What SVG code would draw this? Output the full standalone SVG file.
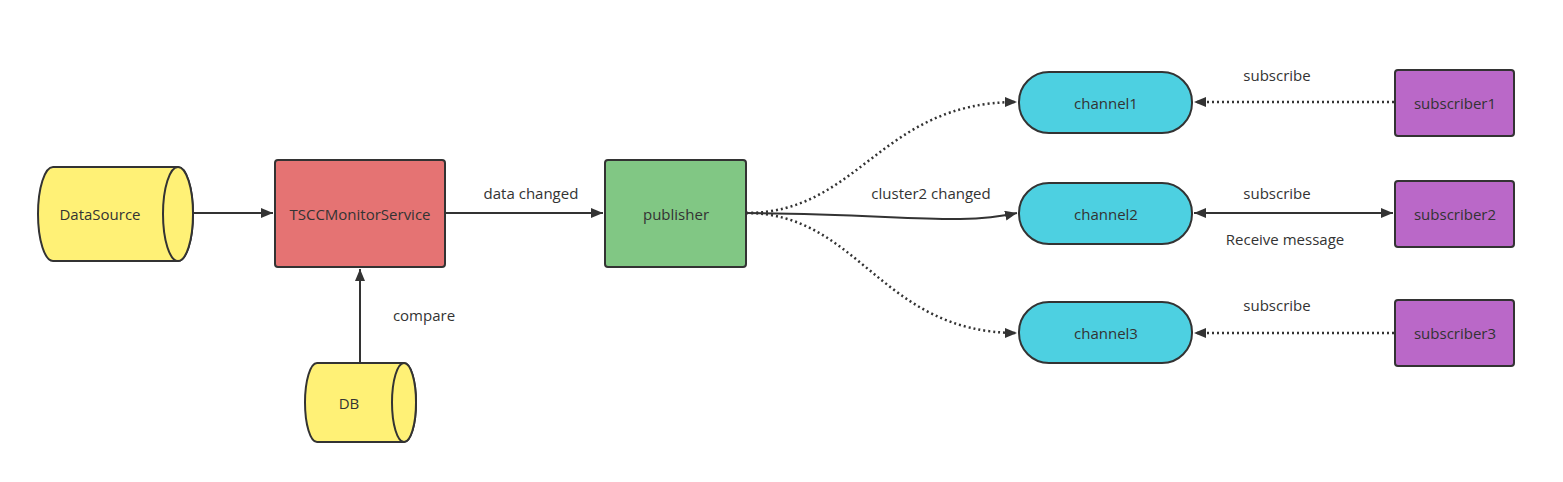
<svg xmlns="http://www.w3.org/2000/svg" width="1563" height="482" viewBox="0 0 1563 482">
<style>
.n{stroke:#333;stroke-width:2}
.t{font-family:"Open Sans","Noto Sans","Liberation Sans",sans-serif;font-size:15px;fill:#333;text-anchor:middle;dominant-baseline:central}
.c{fill:none;stroke:#333;stroke-width:2}
.d{fill:none;stroke:#333;stroke-width:2.5;stroke-dasharray:2 3}
</style>
<defs>
<marker id="a" viewBox="0 0 12 10" refX="12" refY="5" markerWidth="12" markerHeight="10" markerUnits="userSpaceOnUse" orient="auto-start-reverse">
<path d="M0,0 L12,5 L0,10 Z" fill="#333"/>
</marker>
</defs>
<rect width="1563" height="482" fill="#fff"/>
<g id="connectors">
<path class="c" d="M193,213 L273,213" marker-end="url(#a)"/>
<path class="c" d="M360,363 L360,269" marker-end="url(#a)"/>
<path class="c" d="M445,213 L603,213" marker-end="url(#a)"/>
<path class="d" d="M746,213 C860,213 880,102 1017,102" marker-end="url(#a)"/>
<path class="c" d="M746,213 C900,214 960,226 1017,213" marker-end="url(#a)"/>
<path class="d" d="M746,213 C860,213 880,333 1017,333" marker-end="url(#a)"/>
<path class="d" d="M1394,102 L1194,102" marker-end="url(#a)"/>
<path class="c" d="M1194,213 L1393,213" marker-start="url(#a)" marker-end="url(#a)"/>
<path class="d" d="M1394,333 L1194,333" marker-end="url(#a)"/>
<text class="t" x="531" y="193">data changed</text>
<text class="t" x="424" y="315">compare</text>
<text class="t" x="931" y="193">cluster2 changed</text>
<text class="t" x="1277" y="75">subscribe</text>
<text class="t" x="1277" y="193">subscribe</text>
<text class="t" x="1285" y="239">Receive message</text>
<text class="t" x="1277" y="305">subscribe</text>
</g>
<g id="DataSource">
<path class="n" fill="#FFF176" d="M53,167 L178,167 A15,47 0 0 1 178,261 L53,261 A15,47 0 0 1 53,167 Z"/>
<ellipse class="n" fill="#FFF176" cx="178" cy="214" rx="15" ry="47"/>
<text class="t" x="100" y="214">DataSource</text>
</g>
<g id="TSCCMonitorService">
<rect class="n" fill="#E57373" x="275" y="160" width="170" height="107" rx="3"/>
<text class="t" x="360" y="214">TSCCMonitorService</text>
</g>
<g id="DB">
<path class="n" fill="#FFF176" d="M317,363 L404,363 A12,39.5 0 0 1 404,442 L317,442 A12,39.5 0 0 1 317,363 Z"/>
<ellipse class="n" fill="#FFF176" cx="404" cy="402.5" rx="12" ry="39.5"/>
<text class="t" x="349" y="403">DB</text>
</g>
<g id="publisher">
<rect class="n" fill="#81C784" x="605" y="160" width="141" height="107" rx="3"/>
<text class="t" x="676" y="214">publisher</text>
</g>
<g id="channel1">
<rect class="n" fill="#4DD0E1" x="1019" y="72" width="173" height="61" rx="30"/>
<text class="t" x="1106" y="103">channel1</text>
</g>
<g id="channel2">
<rect class="n" fill="#4DD0E1" x="1019" y="183" width="173" height="61" rx="30"/>
<text class="t" x="1106" y="214">channel2</text>
</g>
<g id="channel3">
<rect class="n" fill="#4DD0E1" x="1019" y="302" width="173" height="61" rx="30"/>
<text class="t" x="1106" y="333">channel3</text>
</g>
<g id="subscriber1">
<rect class="n" fill="#BA68C8" x="1395" y="70" width="119" height="66" rx="3"/>
<text class="t" x="1455" y="103">subscriber1</text>
</g>
<g id="subscriber2">
<rect class="n" fill="#BA68C8" x="1395" y="181" width="119" height="66" rx="3"/>
<text class="t" x="1455" y="214">subscriber2</text>
</g>
<g id="subscriber3">
<rect class="n" fill="#BA68C8" x="1395" y="300" width="119" height="66" rx="3"/>
<text class="t" x="1455" y="333">subscriber3</text>
</g>
</svg>
